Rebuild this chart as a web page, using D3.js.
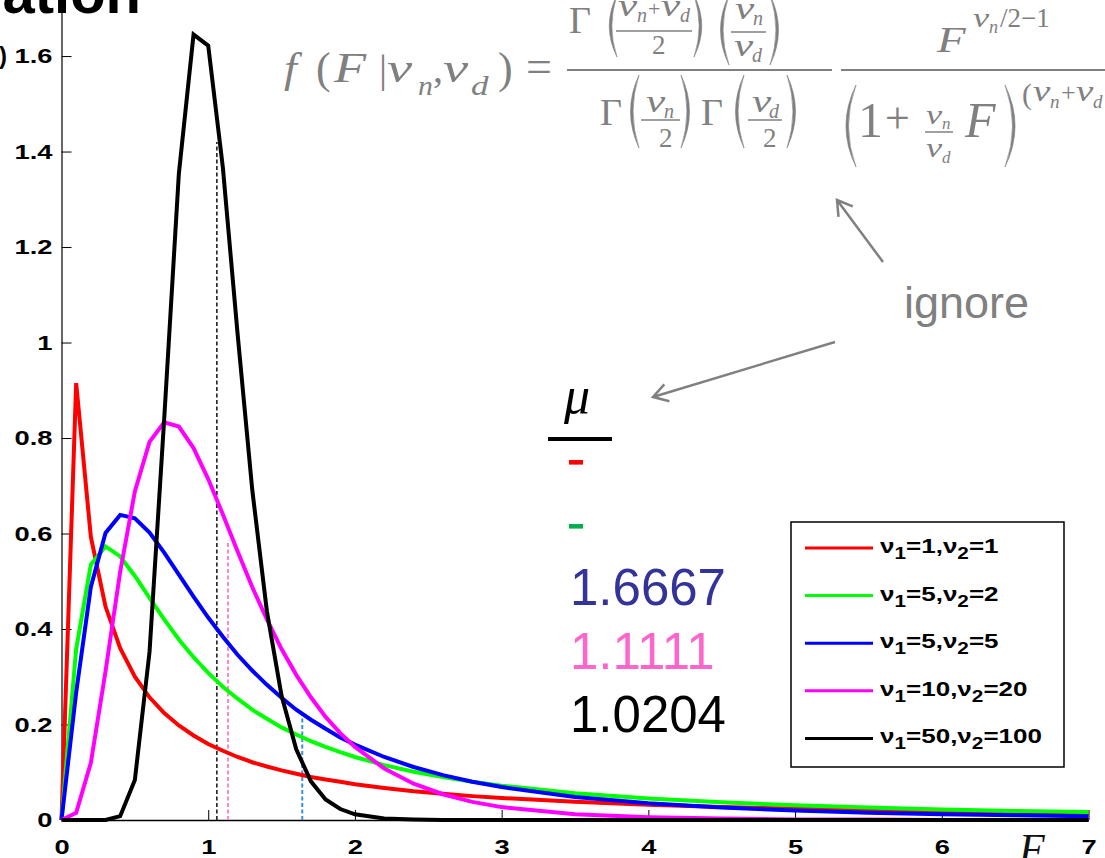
<!DOCTYPE html>
<html>
<head>
<meta charset="utf-8">
<script src="https://cdn.jsdelivr.net/npm/d3@7"></script>
<style>
  body { margin: 0; background: #fff; overflow: hidden; }
  svg { display: block; }
  .axis .tick text { font-family: "Liberation Sans", Arial, sans-serif; font-weight: bold; font-size: 21px; fill: #000; }
  .axis path, .axis line { stroke: #000; }
</style>
</head>
<body>
<svg id="chart" width="1105" height="858"></svg>
<script>
// F values at which the curves were sampled
const fValues = [0, 0.1, 0.2, 0.3, 0.4, 0.5, 0.6, 0.7, 0.8, 0.9, 1.0, 1.1, 1.2, 1.3, 1.4, 1.5, 1.6, 1.7, 1.8, 1.9, 2.0,
  2.2, 2.4, 2.6, 2.8, 3.0, 3.5, 4.0, 4.5, 5.0, 5.5, 6.0, 6.5, 7.0];

const pdf_1_1 = [0, 0.915, 0.593, 0.447, 0.360, 0.300, 0.257, 0.224, 0.198, 0.177, 0.159, 0.145, 0.132, 0.121, 0.112, 0.104, 0.097, 0.090, 0.085, 0.080, 0.075,
  0.067, 0.060, 0.055, 0.050, 0.046, 0.038, 0.032, 0.027, 0.024, 0.021, 0.019, 0.017, 0.015];
const pdf_5_2 = [0, 0.358, 0.535, 0.573, 0.552, 0.511, 0.465, 0.420, 0.378, 0.341, 0.308, 0.279, 0.254, 0.231, 0.212, 0.194, 0.179, 0.165, 0.153, 0.142, 0.132,
  0.115, 0.101, 0.090, 0.080, 0.072, 0.056, 0.045, 0.037, 0.031, 0.026, 0.022, 0.019, 0.017];
const pdf_5_5 = [0, 0.267, 0.488, 0.601, 0.639, 0.632, 0.602, 0.560, 0.514, 0.468, 0.424, 0.384, 0.346, 0.313, 0.283, 0.256, 0.231, 0.210, 0.191, 0.173, 0.158,
  0.132, 0.111, 0.094, 0.080, 0.069, 0.048, 0.035, 0.026, 0.020, 0.015, 0.012, 0.010, 0.008];
const pdf_10_20 = [0, 0.015, 0.120, 0.311, 0.520, 0.688, 0.792, 0.833, 0.824, 0.779, 0.714, 0.640, 0.563, 0.488, 0.420, 0.358, 0.304, 0.257, 0.216, 0.182, 0.153,
  0.108, 0.076, 0.054, 0.038, 0.027, 0.012, 0.006, 0.003, 0.001, 0.001, 0, 0, 0];
const pdf_50_100 = [0, 0, 0, 0.0002, 0.008, 0.084, 0.352, 0.840, 1.354, 1.645, 1.622, 1.366, 1.019, 0.692, 0.437, 0.260, 0.148, 0.081, 0.043, 0.023, 0.012,
  0.003, 0.001, 0, 0, 0, 0, 0, 0, 0, 0, 0, 0, 0];

const nu1 = [1, 5, 5, 10, 50];
const nu2 = [1, 2, 5, 20, 100];
const seriesColors = ["#ff0000", "#00ff00", "#0000ff", "#ff00ff", "#000000"];
const seriesValues = [pdf_1_1, pdf_5_2, pdf_5_5, pdf_10_20, pdf_50_100];

// dashed markers at the means
const meanF = [1.059, 1.135, 1.641];
const meanHeight = [1.42, 0.586, 0.22];
const meanColors = ["#000000", "#ff88cc", "#3a8fd6"];

// mean column
const muText = ["", "", "1.6667", "1.1111", "1.0204"];
const muColors = ["#ff0000", "#00b050", "#333399", "#ff66cc", "#000000"];

const xTicks = [0, 1, 2, 3, 4, 5, 6, 7];
const yTicks = [0, 0.2, 0.4, 0.6, 0.8, 1, 1.2, 1.4, 1.6];

const svg = d3.select("#chart");
const x = d3.scaleLinear().domain([0, 7]).range([61.5, 1088.5]);
const y = d3.scaleLinear().domain([0, 1.7]).range([820, 8.3]);

const grey = "#808080";
const serif = "'Liberation Serif', 'Times New Roman', serif";
const sans = "'Liberation Sans', Arial, sans-serif";

// cut-off slide title and y label
svg.append("text").attr("x", 141).attr("y", 13).attr("text-anchor", "end")
  .attr("font-family", sans).attr("font-weight", "bold").attr("font-size", 58).text("ation");
svg.append("text").attr("x", 7).attr("y", 64).attr("text-anchor", "end")
  .attr("font-family", sans).attr("font-weight", "bold").attr("font-size", 24).text("f(F)");

// axes
const xAxis = svg.append("g").attr("class", "axis")
  .attr("transform", "translate(0,820)")
  .call(d3.axisBottom(x).tickValues(xTicks).tickSizeInner(-10).tickSizeOuter(0).tickPadding(19).tickFormat(d => d));
xAxis.selectAll(".tick text").attr("transform", "scale(1.3,1)");
xAxis.select(".domain").attr("stroke-width", 1.5);

const yAxis = svg.append("g").attr("class", "axis")
  .attr("transform", "translate(61.5,0)")
  .call(d3.axisLeft(y).tickValues(yTicks).tickSizeInner(-10).tickSizeOuter(0).tickPadding(7).tickFormat(d => d));
yAxis.selectAll(".tick text").attr("transform", "scale(1.3,1)");
yAxis.select(".domain").attr("stroke-width", 1.2);

// mean markers
meanF.forEach((m, i) => {
  svg.append("line")
    .attr("x1", x(m)).attr("x2", x(m))
    .attr("y1", y(0)).attr("y2", y(meanHeight[i]))
    .attr("stroke", meanColors[i])
    .attr("stroke-width", i === 0 ? 1.4 : 2)
    .attr("stroke-dasharray", "4,2.5");
});

// curves
const line = d3.line().x((d, i) => x(fValues[i])).y(d => y(d));
seriesValues.forEach((vals, i) => {
  svg.append("path")
    .attr("d", line(vals))
    .attr("fill", "none")
    .attr("stroke", seriesColors[i])
    .attr("stroke-width", 4);
});

// legend
const legend = svg.append("g");
legend.append("rect").attr("x", 791).attr("y", 522).attr("width", 273).attr("height", 245)
  .attr("fill", "#fff").attr("stroke", "#000").attr("stroke-width", 1.5);
nu1.forEach((a, i) => {
  const ly = 548 + i * 47.6;
  legend.append("line").attr("x1", 805).attr("x2", 873).attr("y1", ly).attr("y2", ly)
    .attr("stroke", seriesColors[i]).attr("stroke-width", 3);
  const t = legend.append("text")
    .attr("transform", `translate(880,${ly + 5}) scale(1.3,1)`)
    .attr("font-family", sans).attr("font-weight", "bold").attr("font-size", 20);
  t.append("tspan").text("ν");
  t.append("tspan").attr("font-size", 16).attr("dy", 6).text("1");
  t.append("tspan").attr("dy", -6).text(`=${a},ν`);
  t.append("tspan").attr("font-size", 16).attr("dy", 6).text("2");
  t.append("tspan").attr("dy", -6).text(`=${nu2[i]}`);
});

// F axis label
svg.append("text").attr("x", 1019).attr("y", 863)
  .attr("font-family", serif).attr("font-style", "italic").attr("font-size", 42).attr("fill", "#111").text("F");

// mean column
svg.append("text").attr("x", 564).attr("y", 413)
  .attr("font-family", serif).attr("font-style", "italic").attr("font-size", 52).text("μ");
svg.append("line").attr("x1", 548).attr("x2", 612).attr("y1", 439).attr("y2", 439)
  .attr("stroke", "#000").attr("stroke-width", 4);
muText.forEach((t, i) => {
  if (t === "") {
    svg.append("rect").attr("x", 569).attr("y", 460 + i * 64).attr("width", 14).attr("height", 4.6)
      .attr("fill", muColors[i]);
  } else {
    svg.append("text").attr("x", 570).attr("y", 605 + (i - 2) * 63.5)
      .attr("font-family", sans).attr("font-size", 51).attr("fill", muColors[i]).text(t);
  }
});

// "ignore" note with arrows
svg.append("text").attr("x", 904).attr("y", 318)
  .attr("font-family", sans).attr("font-size", 45).attr("fill", grey).text("ignore");
const arrows = [[883, 262, 837, 200], [835, 342, 653, 397]];
arrows.forEach(([x1, y1, x2, y2]) => {
  const a = Math.atan2(y1 - y2, x1 - x2);
  const len = 17, sp = 0.55;
  svg.append("path")
    .attr("d", `M${x1},${y1}L${x2},${y2}M${x2 + len * Math.cos(a + sp)},${y2 + len * Math.sin(a + sp)}L${x2},${y2}L${x2 + len * Math.cos(a - sp)},${y2 + len * Math.sin(a - sp)}`)
    .attr("fill", "none").attr("stroke", grey).attr("stroke-width", 2.5);
});

// formula (grey, typeset by hand): text, x, baseline, size, italic?, horizontal stretch
const glyphs = [
  ["f", 284, 82, 42, "i", 1.1], ["(", 316, 83, 44, "n", 1], ["F", 334, 82, 42, "i", 1.25], ["|", 379, 82, 40, "n", 1],
  ["ν", 387, 82, 42, "i", 1.35], ["n", 418, 95, 27, "i", 1.1], [",", 433, 82, 40, "n", 1], ["ν", 443, 82, 42, "i", 1.35],
  ["d", 471, 95, 27, "i", 1.3], [")", 498, 83, 44, "n", 1], ["=", 526, 82, 46, "n", 1],
  ["Γ", 569, 33, 38, "n", 1],
  ["ν", 618, 16, 32, "i", 1.35], ["n", 637, 22, 20, "i", 1], ["+", 648, 16, 22, "n", 1],
  ["ν", 661, 16, 32, "i", 1.35], ["d", 680, 22, 20, "i", 1], ["2", 652, 54, 27, "n", 1],
  ["ν", 735, 19, 32, "i", 1.35], ["n", 753, 25, 20, "i", 1], ["ν", 734, 56, 32, "i", 1.35], ["d", 752, 62, 20, "i", 1],
  ["Γ", 600, 125, 38, "n", 1], ["ν", 646, 112, 32, "i", 1.35], ["n", 664, 118, 20, "i", 1], ["2", 659, 147, 27, "n", 1],
  ["Γ", 701, 125, 38, "n", 1], ["ν", 752, 112, 32, "i", 1.35], ["d", 769, 118, 20, "i", 1], ["2", 763, 147, 27, "n", 1],
  ["F", 937, 52, 36, "i", 1.3], ["ν", 973, 27, 28, "i", 1.3], ["n", 989, 33, 18, "i", 1], ["/2−1", 1000, 27, 27, "n", 1],
  ["1", 858, 137, 50, "n", 1], ["+", 885, 133, 44, "n", 1],
  ["ν", 926, 124, 28, "i", 1.3], ["n", 942, 129, 17, "i", 1], ["ν", 926, 157, 28, "i", 1.3], ["d", 942, 163, 17, "i", 1],
  ["F", 965, 137, 50, "i", 1],
  ["(", 1022, 104, 30, "n", 1], ["ν", 1033, 101, 30, "i", 1.3], ["n", 1050, 108, 19, "i", 1], ["+", 1061, 101, 26, "n", 1],
  ["ν", 1076, 101, 30, "i", 1.3], ["d", 1093, 108, 19, "i", 1]
];
const bars = [[567, 832, 70, 2.2], [841, 1110, 70, 2.2], [616, 692, 31, 1.5], [731, 766, 32, 1.5],
  [641, 680, 120, 1.5], [748, 782, 120, 1.5], [925, 953, 132, 1.5]];
const parens = [["(", 607, -5, 57, 10], [")", 694, -5, 57, 10], ["(", 718, -5, 65, 11], [")", 770, -5, 65, 11],
  ["(", 628, 75, 148, 11], [")", 681, 75, 148, 11], ["(", 733, 75, 148, 11], [")", 787, 75, 148, 11],
  ["(", 843, 85, 167, 13], [")", 1005, 85, 167, 13]];

const formula = svg.append("g").attr("fill", grey);
glyphs.forEach(([t, gx, gy, size, st, sx]) => {
  formula.append("text")
    .attr("transform", `translate(${gx},${gy}) scale(${sx},1)`)
    .attr("font-family", serif).attr("font-size", size)
    .attr("font-style", st === "i" ? "italic" : "normal").text(t);
});
bars.forEach(([x1, x2, by, w]) => {
  formula.append("line").attr("x1", x1).attr("x2", x2).attr("y1", by).attr("y2", by)
    .attr("stroke", grey).attr("stroke-width", w);
});
parens.forEach(([kind, px, y1, y2, w]) => {
  const ym = (y1 + y2) / 2, th = 2.6;
  let d;
  if (kind === "(") {
    const co = px - 0.55 * w;
    d = `M${px + w},${y1}Q${co},${ym} ${px + w},${y2}Q${co + 2 * th},${ym} ${px + w},${y1}Z`;
  } else {
    const co = px + 1.55 * w;
    d = `M${px},${y1}Q${co},${ym} ${px},${y2}Q${co - 2 * th},${ym} ${px},${y1}Z`;
  }
  formula.append("path").attr("d", d).attr("fill", grey).attr("stroke", grey).attr("stroke-width", 0.6);
});
</script>
</body>
</html>
